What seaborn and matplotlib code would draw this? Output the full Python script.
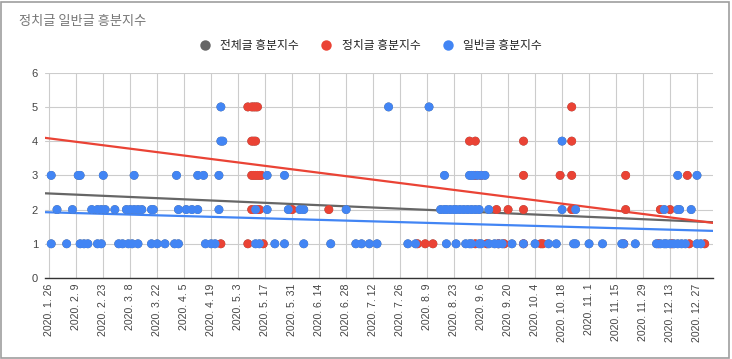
import numpy as np
import pandas as pd
import matplotlib
matplotlib.use("Agg")
import matplotlib.pyplot as plt
import matplotlib.dates as mdates
from matplotlib.lines import Line2D
from matplotlib.patches import Rectangle
import seaborn as sns

# ---------------- data ----------------
title = "정치글 일반글 흥분지수"
series_names = ["전체글 흥분지수", "정치글 흥분지수", "일반글 흥분지수"]
series_colors = ["#666666", "#EA4335", "#4285F4"]

# 정치글 흥분지수 (political posts), grouped by score
pol_1 = ["04-24", "05-08", "05-16", "08-04", "08-08", "08-12", "09-03", "09-09", "09-15",
         "09-18", "09-28", "10-07", "10-08", "11-19", "12-07", "12-14", "12-23", "12-31"]
pol_2 = ["05-10", "05-12", "05-13", "05-14", "05-31", "06-19", "09-14", "09-20", "09-28",
         "10-23", "11-20", "12-08", "12-13"]
pol_3 = ["05-10", "05-11", "05-12", "05-13", "05-14", "05-15", "09-03", "09-06", "09-28",
         "10-17", "10-23", "11-20", "12-22"]
pol_4 = ["05-10", "05-11", "05-12", "08-31", "09-03", "09-28", "10-23"]
pol_5 = ["05-08", "05-10", "05-11", "05-12", "05-13", "10-23"]

# 일반글 흥분지수 (general posts), grouped by score
gen_1 = ["01-27", "02-04", "02-11", "02-13", "02-15", "02-20", "02-22", "03-02", "03-04",
         "03-07", "03-09", "03-12", "03-19", "03-22", "03-26", "03-31", "04-02", "04-16",
         "04-19", "04-21", "05-12", "05-14", "05-22", "05-27", "06-06", "06-20", "07-03",
         "07-06", "07-10", "07-14", "07-30", "08-03", "08-19", "08-24", "08-29", "08-31",
         "09-01", "09-05", "09-06", "09-10", "09-13", "09-15", "09-17", "09-22", "09-28",
         "10-04", "10-11", "10-15", "10-24", "10-25", "11-01", "11-08", "11-18", "11-19",
         "11-25", "12-06", "12-08", "12-10", "12-11", "12-13", "12-15", "12-17", "12-19",
         "12-21", "12-27", "12-29"]
gen_2 = ["01-30", "02-07", "02-17", "02-20", "02-22", "02-24", "02-29", "03-06", "03-08",
         "03-10", "03-12", "03-14", "03-19", "03-20", "04-02", "04-06", "04-09", "04-12",
         "04-23", "05-12", "05-18", "05-29", "06-04", "06-06", "06-28", "08-16", "08-18",
         "08-19", "08-21", "08-23", "08-24", "08-26", "08-28", "08-30", "09-01", "09-03",
         "09-05", "09-10", "10-18", "10-25", "12-10", "12-17", "12-18", "12-24"]
gen_3 = ["01-27", "02-10", "02-11", "02-23", "03-10", "04-01", "04-12", "04-15", "04-23",
         "05-18", "05-27", "08-18", "08-31", "09-01", "09-02", "09-04", "09-06", "09-08",
         "12-17", "12-27"]
gen_4 = ["04-24", "04-25", "10-18"]
gen_5 = ["04-24", "07-20", "08-10"]

year = "2020"

# linear trendline values (at the first and last tick dates)
trend_dates = ["2020-01-26", "2020-12-27"]
trend_total = [2.47, 1.65]
trend_politics = [4.08, 1.67]
trend_general = [1.92, 1.39]

tick_dates = ["2020-01-26", "2020-02-09", "2020-02-23", "2020-03-08", "2020-03-22",
              "2020-04-05", "2020-04-19", "2020-05-03", "2020-05-17", "2020-05-31",
              "2020-06-14", "2020-06-28", "2020-07-12", "2020-07-26", "2020-08-09",
              "2020-08-23", "2020-09-06", "2020-09-20", "2020-10-04", "2020-10-18",
              "2020-11-01", "2020-11-15", "2020-11-29", "2020-12-13", "2020-12-27"]
tick_labels = ["2020. 1. 26", "2020. 2. 9", "2020. 2. 23", "2020. 3. 8", "2020. 3. 22",
               "2020. 4. 5", "2020. 4. 19", "2020. 5. 3", "2020. 5. 17", "2020. 5. 31",
               "2020. 6. 14", "2020. 6. 28", "2020. 7. 12", "2020. 7. 26", "2020. 8. 9",
               "2020. 8. 23", "2020. 9. 6", "2020. 9. 20", "2020. 10. 4", "2020. 10. 18",
               "2020. 11. 1", "2020. 11. 15", "2020. 11. 29", "2020. 12. 13", "2020. 12. 27"]
y_ticks = [0, 1, 2, 3, 4, 5, 6]

# ---------------- build table ----------------
def rows(groups, name):
    out = []
    for score, dates in groups:
        for d in dates:
            out.append({"date": pd.Timestamp(f"{year}-{d}"), "value": score, "series": name})
    return out

pol_rows = rows([(1, pol_1), (2, pol_2), (3, pol_3), (4, pol_4), (5, pol_5)], series_names[1])
gen_rows = rows([(1, gen_1), (2, gen_2), (3, gen_3), (4, gen_4), (5, gen_5)], series_names[2])
all_rows = [dict(r, series=series_names[0]) for r in pol_rows + gen_rows]

df = pd.DataFrame(all_rows + pol_rows + gen_rows)
df["x"] = mdates.date2num(df["date"])

# ---------------- style ----------------
sns.set_theme(style="white")
plt.rcParams["font.family"] = ["Noto Sans CJK KR", "DejaVu Sans"]

W, H = 732, 359
fig = plt.figure(figsize=(W / 100, H / 100), dpi=100)
ax = fig.add_axes([45 / W, 81 / H, (713 - 45) / W, (286.3 - 81) / H])

x0 = mdates.date2num(pd.Timestamp("2020-01-26"))
xlim = (x0 - 2.23, x0 + 344.3)
ax.set_xlim(*xlim)
ax.set_ylim(0, 6)

# trend lines, extended across the full plot width
tx = mdates.date2num(pd.to_datetime(trend_dates))
xs = np.array(xlim)
trend_rows = []
for name, vals in zip(series_names, [trend_total, trend_politics, trend_general]):
    k, b = np.polyfit(tx, vals, 1)
    for xv in xs:
        trend_rows.append({"x": xv, "value": k * xv + b, "series": name})
trend_df = pd.DataFrame(trend_rows)
sns.lineplot(data=trend_df, x="x", y="value", hue="series", hue_order=series_names,
             palette=series_colors, lw=1.6, legend=False, ax=ax, zorder=2)

sns.scatterplot(data=df, x="x", y="value", hue="series", hue_order=series_names,
                palette=series_colors, s=40, linewidth=0, legend=False, ax=ax, zorder=3)

ax.set_xlim(*xlim)
ax.set_ylim(0, 6)
ax.set_xlabel("")
ax.set_ylabel("")

ax.set_xticks(mdates.date2num(pd.to_datetime(tick_dates)))
ax.set_xticklabels(tick_labels, rotation=90, fontsize=7.6, color="#444444",
                   family=["Liberation Sans", "DejaVu Sans"])
ax.set_yticks(y_ticks)
ax.set_yticklabels([str(v) for v in y_ticks], fontsize=8, color="#444444",
                   family=["Liberation Sans", "DejaVu Sans"])
ax.tick_params(axis="both", length=0)
ax.tick_params(axis="x", pad=4)
ax.tick_params(axis="y", pad=5)

ax.grid(True, color="#cccccc", lw=0.8)
ax.set_axisbelow(True)
for s in ["left", "right", "top"]:
    ax.spines[s].set_visible(False)
ax.spines["bottom"].set_color("#333333")
ax.spines["bottom"].set_linewidth(1.0)
ax.spines["bottom"].set_zorder(4)

# title
fig.text(19 / W, 1 - 22 / H, title, fontsize=9.5, color="#757575", va="center", ha="left")

# legend
handles = [Line2D([], [], marker="o", ls="", color=c, markersize=7.5, markeredgewidth=0)
           for c in series_colors]
fig.legend(handles, series_names, loc="center", bbox_to_anchor=(0.502, 1 - 46 / H),
           ncol=3, frameon=False, fontsize=8.5, handletextpad=0.3, columnspacing=1.3,
           labelcolor="#222222")

# outer border
fig.patches.append(Rectangle((1 / W, 1.5 / H), 728 / W, 356 / H, transform=fig.transFigure,
                             fill=False, edgecolor="#9e9e9e", lw=1.2))

fig.savefig("out.png", dpi=100)
